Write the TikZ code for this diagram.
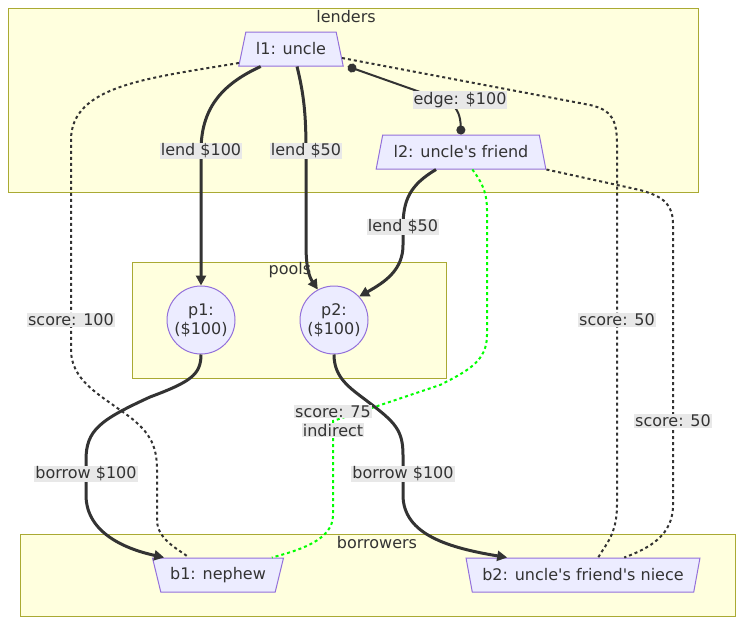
\documentclass[tikz,border=0pt]{standalone}
\usepackage{fontspec}
\setmainfont{DejaVu Sans}
\usetikzlibrary{arrows.meta,shapes.geometric}
\definecolor{clfill}{HTML}{FFFFDE}
\definecolor{cldraw}{HTML}{AAAA33}
\definecolor{ndfill}{HTML}{ECECFF}
\definecolor{nddraw}{HTML}{9370DB}
\definecolor{txt}{HTML}{333333}
\definecolor{lblbg}{HTML}{E8E8E8}
\definecolor{indgreen}{HTML}{00FF00}
\setlength{\fboxsep}{1pt}
\begin{document}
\begin{tikzpicture}
[
	x=1pt,y=-1pt,
	font=\fontsize{16}{19}\selectfont,
	text=txt,
	cluster/.style={draw=cldraw,fill=clfill,line width=1pt},
	trap/.style={trapezium,trapezium stretches=true,trapezium left angle=65,trapezium right angle=65,draw=nddraw,fill=ndfill,line width=1pt,minimum height=34pt,inner xsep=2pt,inner ysep=0pt},
	invtrap/.style={trap,shape border rotate=180},
	pool/.style={circle,draw=nddraw,fill=ndfill,line width=1pt,minimum size=68pt,inner sep=0pt,align=center},
	elabel/.style={fill=lblbg,inner xsep=1pt,inner ysep=1pt,align=center},
	flow/.style={draw=txt,line width=3pt,-{Triangle[length=10pt,width=10pt]}},
	link/.style={draw=txt,line width=2pt,{Circle[length=9pt]}-{Circle[length=9pt]}},
	score/.style={draw=txt,line width=2pt,dash pattern=on 3pt off 3pt},
	indirect/.style={score,draw=indgreen}
]

	\useasboundingbox (0,0) rectangle (751,632);

	\draw[cluster] (8,8) rectangle (698,192);
	\node (lenderslbl) at (346,17) {lenders};
	\draw[cluster] (132,262) rectangle (446,378);
	\node (poolslbl) at (290,270) {pools};
	\draw[cluster] (20,534) rectangle (735,616);
	\node (borrowerslbl) at (377,543) {borrowers};

	\node[trap,minimum width=105pt] (l1) at (291,49) {l1: uncle};
	\node[trap,minimum width=170pt] (l2) at (461,152) {l2: uncle\textquotesingle s friend};
	\node[pool] (p1) at (201,320) {p1:\\(\$100)};
	\node[pool] (p2) at (334,320) {p2:\\(\$100)};
	\node[invtrap,minimum width=131pt] (b1) at (218,575) {b1: nephew};
	\node[invtrap,minimum width=234pt] (b2) at (583,575) {b2: uncle\textquotesingle s friend\textquotesingle s niece};

	\coordinate (m1) at (201,151);
	\coordinate (m2) at (306,151);
	\coordinate (m3) at (460,100);
	\coordinate (m4) at (403,227);
	\coordinate (m5) at (86,474);
	\coordinate (m6) at (403,474);
	\coordinate (m7) at (71,320);
	\coordinate (m8) at (617,320);
	\coordinate (m9) at (673,421);
	\coordinate (m10) at (333,421);

	\draw[score] (l1.195) .. controls (150,78) and (71,85) .. (71,140) -- (m7) -- (71,350)
		.. controls (71,380) and (100,395) .. (120,410) .. controls (150,430) and (157,445) .. (157,470)
		-- (157,520) .. controls (157,540) and (180,550) .. (b1.149);
	\draw[score] (l1.-10) -- (590,105) .. controls (612,110) and (617,120) .. (617,145) -- (m8)
		-- (617,505) .. controls (617,535) and (605,545) .. (b2.49);
	\draw[score] (l2.bottom right corner) -- (640,190) .. controls (665,197) and (673,205) .. (673,225) -- (m9)
		-- (673,505) .. controls (673,535) and (650,548) .. (b2.23);
	\draw[indirect] (l2.-57) .. controls (480,180) and (487,190) .. (487,210) -- (487,335)
		.. controls (487,360) and (470,370) .. (440,385) -- (m10) -- (333,515)
		.. controls (333,540) and (300,550) .. (b1.18);

	\draw[flow] (l1.210) .. controls (220,85) and (201,110) .. (m1) -- (p1.north);
	\draw[flow] (l1.-71) .. controls (304,95) and (306,115) .. (m2) -- (306,245)
		.. controls (306,270) and (310,278) .. (p2.118);
	\draw[link] ([xshift=4pt]l1.bottom right corner) -- (420,92) .. controls (450,100) and (460,105) .. (l2.north);
	\draw[flow] (l2.215) .. controls (410,185) and (403,200) .. (m4) -- (403,245)
		.. controls (403,270) and (385,282) .. (p2.43);
	\draw[flow] (p1.south) .. controls (201,375) and (190,382) .. (150,397)
		.. controls (100,420) and (86,430) .. (86,460) -- (m5) -- (86,495)
		.. controls (86,535) and (130,550) .. (b1.162);
	\draw[flow] (p2.south) .. controls (334,378) and (350,388) .. (367,401)
		.. controls (395,422) and (403,430) .. (403,455) -- (m6) -- (403,495)
		.. controls (403,535) and (450,548) .. (b2.167);

	\node[elabel] (lend1) at (m1) {lend \$100};
	\node[elabel] (lend2) at (m2) {lend \$50};
	\node[elabel] (edge12) at (m3) {edge: \$100};
	\node[elabel] (lend3) at (m4) {lend \$50};
	\node[elabel] (borrow1) at (m5) {borrow \$100};
	\node[elabel] (borrow2) at (m6) {borrow \$100};
	\node[elabel] (score1) at (m7) {score: 100};
	\node[elabel] (score2) at (m8) {score: 50};
	\node[elabel] (score3) at (m9) {score: 50};
	\node[align=center,inner sep=0pt] (score4) at (m10) {\colorbox{lblbg}{score: 75}\\\colorbox{lblbg}{indirect}};

\end{tikzpicture}
\end{document}
